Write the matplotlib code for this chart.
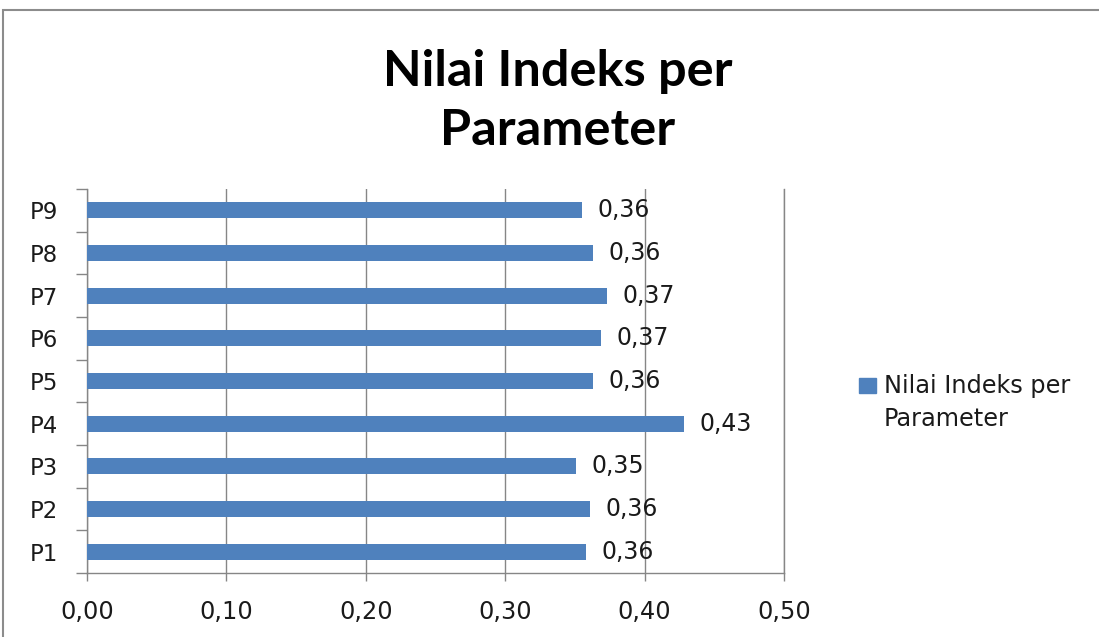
import matplotlib
matplotlib.use('Agg')
import matplotlib.pyplot as plt
from matplotlib.patches import Rectangle

plt.rcParams['font.family'] = ['DejaVu Sans']

categories = ['P1', 'P2', 'P3', 'P4', 'P5', 'P6', 'P7', 'P8', 'P9']
values = [0.358, 0.3605, 0.351, 0.428, 0.363, 0.369, 0.373, 0.363, 0.355]
value_labels = ['0,36', '0,36', '0,35', '0,43', '0,36', '0,37', '0,37', '0,36', '0,36']
x_ticks = [0.0, 0.1, 0.2, 0.3, 0.4, 0.5]
x_tick_labels = ['0,00', '0,10', '0,20', '0,30', '0,40', '0,50']
title_lines = ['Nilai Indeks per', 'Parameter']
series_name = 'Nilai Indeks per\nParameter'

W, H = 1099, 637
PX = 72 / 100  # points per pixel
fig = plt.figure(figsize=(W / 100, H / 100), dpi=100)
fig.patch.set_facecolor('white')

ax = fig.add_axes([87 / W, 64 / H, 697 / W, 384 / H])
pos = list(range(len(categories)))
bar_color = '#4F81BD'
ax.barh(pos, values, height=0.375, color=bar_color, zorder=3)

text_color = '#1a1a1a'
ax.set_xlim(0, 0.5)
ax.set_ylim(-0.5, len(categories) - 0.5)
ax.set_xticks(x_ticks)
ax.set_xticklabels(x_tick_labels, fontsize=17.3, color=text_color)
ax.set_yticks(pos)
ax.set_yticklabels(categories, fontsize=16.5, color=text_color)
ax.set_yticks([p - 0.5 for p in range(len(categories) + 1)], minor=True)

gray = '#868686'
ax.tick_params(axis='y', which='major', length=0, pad=29 * PX)
ax.tick_params(axis='y', which='minor', length=11 * PX, color=gray, width=1)
ax.tick_params(axis='x', which='major', length=8 * PX, color=gray, width=1, pad=19 * PX)
ax.grid(axis='x', color=gray, lw=1, zorder=0)
ax.set_axisbelow(True)
ax.spines['top'].set_visible(False)
for s in ['left', 'bottom', 'right']:
    ax.spines[s].set_color(gray)
    ax.spines[s].set_linewidth(1)

for p, v, lab in zip(pos, values, value_labels):
    ax.annotate(lab, (v, p), xytext=(15.5 * PX, 0), textcoords='offset points',
                va='center', ha='left', fontsize=17, color=text_color, zorder=4)

# title (two lines)
for line, base in zip(title_lines, [86, 145]):
    fig.text(558 / W, 1 - base / H, line, ha='center', va='baseline',
             fontsize=36.3, fontweight='bold', family=['Lato', 'DejaVu Sans'])

# legend
fig.add_artist(Rectangle((859 / W, 1 - 393 / H), 17 / W, 15 / H,
                         transform=fig.transFigure, color=bar_color))
leg_lines = series_name.split('\n')
for line, base in zip(leg_lines, [393, 426.5]):
    fig.text(884 / W, 1 - base / H, line, ha='left', va='baseline',
             fontsize=17.3, color=text_color)

# outer frame
fig.add_artist(Rectangle((3 / W, -0.1), 1.2, 1 - 10 / H + 0.1,
                         transform=fig.transFigure, fill=False,
                         ec='#8c8c8c', lw=1.5))

fig.savefig('out.png', dpi=100)
